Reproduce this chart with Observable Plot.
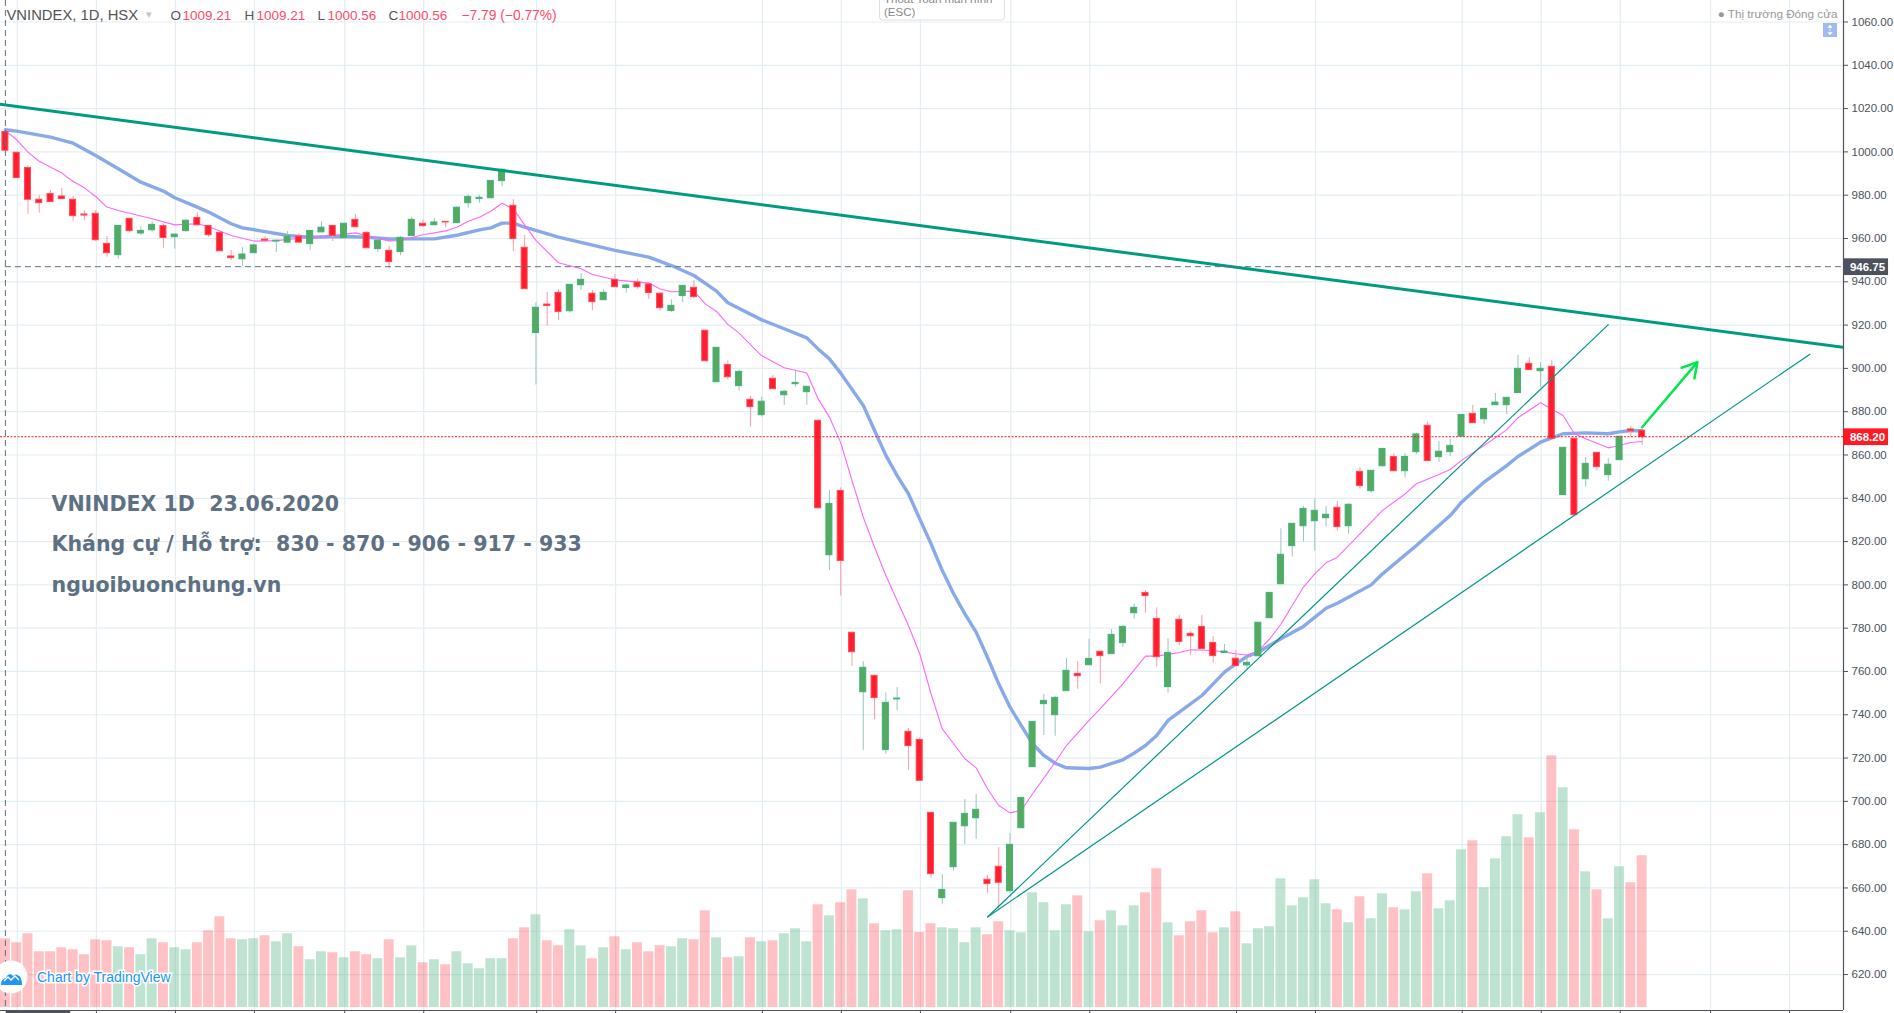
<!DOCTYPE html>
<html>
<head>
<meta charset="utf-8">
<script src="https://cdn.jsdelivr.net/npm/d3@7"></script>
<script src="https://cdn.jsdelivr.net/npm/@observablehq/plot@0.6"></script>
<style>
html,body{margin:0;padding:0;background:#fff;overflow:hidden}
#chart svg{display:block;background:#fff}
#chart svg text{white-space:pre}
</style>
</head>
<body>
<div id="chart"></div>
<script>
const opens=[1009.21,999.6,992.6,977.9,980.6,979.4,977.9,971.1,971.4,957.5,952.3,969.1,962.3,963.8,965.7,960.6,963.4,969.5,965.8,962.6,951.7,950.4,953.2,959.5,958.6,958.1,960.9,957.4,962.8,965.8,960.2,968.6,962.6,955.1,954.3,953.7,961.1,966.8,966.1,967.7,967.1,976.3,978.2,978.6,986.5,975.1,955.7,916.3,929.5,934.9,926.4,938.4,934.5,931.5,940.9,937.1,939.7,938.8,934.5,926.5,933.4,937.2,917.4,893.6,901.6,891.8,885.5,878.4,895.2,887.6,892.7,889,875.8,813.7,843.4,777.9,750.4,758,723.7,747.1,732.1,728.4,694.7,655.3,669.6,688.5,692.2,663.8,669.8,658.5,687.6,715.8,744.9,739.8,750.9,758.9,762.9,769.1,768,773.1,786.9,796.3,784.3,752.8,783.9,777.4,780.6,773.2,768.5,765.9,762.8,767,784.6,800.3,817.9,827.1,829.4,830.8,835.6,827.1,852.2,843.3,854.8,859.1,852.5,861.3,873.5,859,861.3,868.5,879,876.5,883,883,888.6,902.1,898.7,900.7,841.5,867.5,848.8,861,850.7,857.6,871.8,871.2];
const highs=[1009.21,999.6,993.4,979.9,982.2,983.1,979.4,972.9,972.9,960.9,965.8,969.1,965.5,967.8,966.8,961.8,968.6,972,965.8,962.9,954.5,955.8,957.5,960.9,959,963.2,962.1,963.5,967.8,965.8,966.8,971.1,963.2,959,956.4,960.9,969.7,968.6,969.2,967.7,974.6,980.2,979.9,986.6,992.5,978,961.4,930.4,935.1,936.3,938.6,943.8,936,936.4,943.4,939,941.1,938.8,934.9,931.7,938.1,940.6,917.4,909.5,903.5,899.3,887,886.6,896.7,889.8,898.6,891.5,875.8,843.6,844.8,777.9,764.5,758.3,750.1,752.6,733.7,729.3,694.7,666.2,690.1,700.9,703.2,665.8,678.7,685.2,701.6,736.7,749.4,748.4,766,764.6,774.8,769.1,779.4,781.2,790.95,797.4,789.4,775.1,785.9,778.5,785.9,776.2,772.5,769.7,766.6,782.5,796.3,825.9,828.2,836.2,839.8,836.2,838.5,837.5,854.2,852.7,862.8,860.5,860.5,869.9,875.3,866.2,867.2,878.5,882.9,881.3,888.4,886.4,906,904.9,902.6,903.7,863.3,867.5,858.8,861,858.4,868.4,873.2,871.2];
const lows=[1000.56,987.9,971.2,971.7,976.8,978,968,968.3,958.6,951.4,950.4,962.4,961.5,962.9,955.5,955.1,962.9,966.1,960.6,954.1,949.8,947.2,953.2,958.1,953.5,957.8,957.8,954.5,962.8,958.6,960.2,965.2,955.5,953.5,945.8,952.1,961.1,965.1,966.1,964.9,967.1,974,976.3,978.6,984,954,936.6,892.3,919.5,922.3,925.5,936,926.7,931.5,937.5,934.8,936.6,931.8,926.5,925.8,930.4,932.3,903.3,893.6,894.6,889.5,872.9,877.5,890.4,882.9,891.3,882.9,834.8,806.6,794.8,762.3,723.5,737.8,721.7,742,714.3,709.5,664.5,652.5,667.8,680.1,682.5,657.6,649.3,657.6,687.6,715.8,730.4,730.1,750.9,751.8,762.9,754.3,768,771.2,784.2,786.9,762,750,772,767.6,770.3,763.9,768.5,762,760.5,767,784.6,800.3,812.8,819.7,815.6,826.7,824.8,823.4,844.2,842.4,854.4,852.5,849.3,860.2,857.2,856.5,859.3,868.5,874.7,874.1,883,878.7,888.6,899.2,891.3,867.5,841.5,832.2,845.1,852.5,847.9,857.6,868.1,864.4];
const closes=[1000.56,987.9,977.9,976.3,976.8,978.2,970.3,970.6,959.2,953.2,965.8,963.4,963.5,966.3,960.2,961.8,968.2,966.1,961.5,954.1,950.9,952.6,956.8,959,959,960.9,958.1,963.5,965,961.2,966.8,965.2,955.5,959,949.1,960.3,968.6,965.7,967.4,967.4,974.2,979.2,978.8,986.6,991.7,959.8,936.6,928,928.8,926,938.6,940.9,930.6,934.9,937.5,938.3,937.5,934.8,927.8,928.9,938.1,932.9,903.3,909.5,895.9,898.4,882.1,884.6,890.4,889.2,893.3,891.5,835.4,837.4,811,768.9,761.7,747.7,745.5,747.5,725.5,709.5,666.4,659.1,690.1,694.2,696.1,661.8,662.4,679.9,701.6,736.7,746.4,747.8,760.3,757.8,765.8,767.1,776.9,780.6,789.4,794.8,766.6,768.6,773.6,776.3,770.3,767.1,769.2,762.5,764,782.5,796.3,813.9,828.2,835.1,834.2,832.4,826.7,837,845.6,852.7,862.8,852.5,859.1,869.5,857.2,861.5,864.2,878.5,874.7,881.3,884.2,886.4,899.8,899.2,899.8,867.5,863.3,832.2,855.9,854.4,855.5,868.4,870.9,868.2];
const volumes=[68.7,64.7,73.7,55.7,55.7,59.7,57.7,52.7,67.7,66.7,60.7,59.7,52.7,68.7,64.7,59.7,57.7,64.7,76.7,90.7,68.7,67.7,68.7,71.7,65.7,73.7,60.7,47.7,55.7,54.7,49.7,55.7,52.7,48.7,67.7,49.7,61.7,44.7,47.7,42.7,55.7,43.7,38.7,48.7,48.7,68.7,79.7,92.7,66.7,61.7,77.7,61.7,48.7,59.7,70.7,57.7,64.7,55.7,61.7,60.7,68.7,67.7,96.7,69.7,49.7,50.7,69.7,65.7,66.7,73.7,78.7,65.7,102.7,91.7,104.7,117.7,108.7,83.7,76.7,77.7,116.7,75,83.7,79.7,78.7,64.7,79.7,72.7,85.7,76.7,74.7,114.7,104.7,76.7,102.7,111.7,75.7,86.7,96.7,81.7,101.7,114.7,138.7,84.7,71.7,85.7,96.7,74.7,79.7,95.7,63.7,78.7,80.7,128.7,101.7,109.7,127.7,103.7,97.7,84.7,110.7,88.7,113.7,99.7,97.7,115.7,133.7,98.7,106.7,157.7,166.7,119.7,148.7,170.7,192.7,169.7,194.7,251.7,219.7,177.7,135.7,117.7,88.7,140.7,124.7,151.7];

const slowDays=[0,1,4,6,8,10,12,14,15,17,18,20,21,23,25,27,30,32,34,38,40,42,43,44,45,46,49,54,57,59,61,63,64,67,69,71,72,73,74,76,77,78,79,80,81,82,83,84,85,86,87,88,89,90,91,92,93,94,96,97,99,100,101,102,103,104,106,107,108,109,110,111,113,115,117,118,121,122,125,128,129,131,133,134,136,137,138,140,142,143,144,145];
const slowValues=[1010.2,1009.6,1006.8,1004,998.3,992.2,986,981.9,978.8,974.5,972.2,966.8,964.9,963.2,961.4,960.6,960.9,960.6,959.8,959.8,961.5,964,964.9,967.1,967.1,965.2,960.6,954.5,951.4,947.5,942.9,935.7,930.3,922.4,918.3,914.1,909,904.4,897.8,882.9,871.3,859.8,850.5,842.1,830.5,819,806.6,795.9,786.6,778.2,766.6,754.3,743.5,735,726.6,721.2,717.6,715.5,715.2,715.8,719.2,722.3,725.8,730.4,737.4,741.2,748.9,754.3,759.7,763.5,766.9,768.9,775.1,780.8,789.2,791.5,800,805.1,818.2,832,838.2,847.5,855.1,859.3,865.9,867.9,869.8,870.2,869.8,870.7,871.3,871.2];
const fastDays=[0,1,2,3,5,6,7,8,9,10,13,15,17,18,20,22,24,27,29,31,32,34,35,37,39,40,41,42,43,44,45,46,47,49,51,52,54,57,58,59,61,62,63,64,65,67,69,71,72,73,74,75,76,77,78,79,80,81,82,83,84,85,86,87,88,89,90,91,93,94,96,97,99,101,102,103,104,105,107,109,110,111,112,113,114,115,116,117,118,120,122,124,125,127,128,129,131,133,134,136,138,139,140,142,143,144,145];
const fastValues=[1009.9,1005.6,999.9,995.7,990.2,986.3,983.4,979.4,974.5,972.9,969.1,966.3,966.8,965.5,961.4,958.8,959,960.6,961.4,962.6,961.4,958.9,959.1,961.7,963.5,965.2,968,969.8,972.6,976.3,973.7,966.3,959.1,948.8,946,943.4,940.9,939.4,936.7,935.4,935.7,929.8,926.3,920.3,916.3,905.8,900.3,897.9,885.9,877.5,865.7,848.2,831.3,817.4,804.3,792.8,781.2,768.2,749.7,733.5,726.6,719.7,715.5,705.8,698.1,694.7,695.8,703.5,718.1,725.8,737.4,742.8,754.3,767.1,767.1,767.9,768.8,770,769.7,768.2,767.6,769.5,775,781.8,790.5,799,805.1,810.2,812.8,823.6,834.4,842,846.7,851,853.3,857.5,864.4,871.6,877.2,884.1,878.2,869.8,867.5,863.3,864.4,865.8,866.2];

const priceTicks=[620,640,660,680,700,720,740,760,780,800,820,840,860,880,900,920,940,960,980,1000,1020,1040,1060];
const gridDays=[1,8,15,22,30,37,47,54,67,74,81,89,96,109,116,129,136,143,151,158];
const trendDays=[[-1,1022.4,163,909.6],[86.98,646.5,142.03,920.3],[86.98,646.5,159.9,906.7]];
const trendWidths=[3,1.2,1.2];
const arrowLeg=[{d1:145,p1:872.8,d2:149.9,p2:902.9}];
const priceTags=[{price:946.75,label:"946.75",fill:"#4c525e"},{price:868.2,label:"868.20",fill:"#ff1923"}];
const noteLines=["VNINDEX 1D  23.06.2020","Kháng cự / Hỗ trợ:  830 - 870 - 906 - 917 - 933","nguoibuonchung.vn"];
const noteOffsets=[504,544,585];
const headerBits=[["VNINDEX, 1D, HSX",6,"#555",14.8],["O",170,"#555",13.5],["1009.21",182,"#ff4a68",13.5],["H",244,"#555",13.5],["1009.21",256,"#ff4a68",13.5],["L",317,"#555",13.5],["1000.56",327,"#ff4a68",13.5],["C",388,"#555",13.5],["1000.56",398,"#ff4a68",13.5],["−7.79 (−0.77%)",461,"#ff4a68",13.8]];

const W=1894,H=1013,ML=0,MR=51,MT=0,MB=3;
const xDomain=[-0.434,162.84],yDomain=[603.4,1069.93];
const font="'Liberation Sans',Arial,sans-serif";
const volumeToPrice=v=>604.8+v/2.165;

const rows=opens.map((o,i)=>({i,o,h:highs[i],l:lows[i],c:closes[i],v:volumes[i],up:closes[i]>=o}));
const slow=slowDays.map((d,i)=>({d,p:slowValues[i]}));
const fast=fastDays.map((d,i)=>({d,p:fastValues[i]}));
const trends=trendDays.map((t,k)=>({x1:t[0],y1:t[1],x2:t[2],y2:t[3],w:trendWidths[k]}));

const chrome=()=>{
  const g=d3.create("svg:g").attr("text-anchor","start").style("text-anchor","start");
  g.append("rect").attr("x",1823).attr("y",23).attr("width",14).attr("height",14).attr("fill","#a0bcec");
  g.append("path").attr("d","M1830 25l-2 2.5h4zM1830 28.5v3M1830 35l-2-2.5h4z").attr("fill","#fff").attr("stroke","#fff").attr("stroke-width",.6);
  g.append("rect").attr("x",879.5).attr("y",-6).attr("width",125).attr("height",26).attr("rx",3).attr("fill","#fff").attr("stroke","#dcdfe3");
  g.append("text").attr("x",884).attr("y",3).attr("font-family",font).attr("font-size",11.5).attr("fill","#888").text("Thoát Toàn màn hình");
  g.append("text").attr("x",884).attr("y",16).attr("font-family",font).attr("font-size",11.5).attr("fill","#888").text("(ESC)");
  g.append("rect").attr("x",5.7).attr("y",1011).attr("width",64.5).attr("height",2).attr("fill","#4c525e");
  g.append("circle").attr("cx",11).attr("cy",977).attr("r",16.5).attr("fill","#fff");
  g.append("path").attr("d","M1 985c0-5 3-7 5-7 1-4 5-5 7-2 2-2 4-2 6 0 2 1 3 5 3 9z").attr("fill","#2196f3");
  g.append("path").attr("d","M4 981l4-4 3 3 4-4 4 4").attr("fill","none").attr("stroke","#fff").attr("stroke-width",1.3);
  g.append("text").attr("x",37).attr("y",981.5).attr("font-family",font).attr("font-size",14).attr("fill","#2196f3").attr("stroke","#fff").attr("stroke-width",3).attr("paint-order","stroke").text("Chart by TradingView");
  return g.node();
};

const chart=Plot.plot({
  width:W,height:H,marginLeft:ML,marginRight:MR,marginTop:MT,marginBottom:MB,
  style:{background:"#fff",fontFamily:font,overflow:"visible"},
  x:{type:"linear",domain:xDomain,axis:null},
  y:{type:"linear",domain:yDomain,axis:null},
  marks:[
    Plot.ruleY(priceTicks,{stroke:"#e4edf3",strokeWidth:1.2}),
    Plot.ruleX(gridDays,{stroke:"#e4edf3",strokeWidth:1.2,dx:.7}),
    Plot.rect(rows,{x1:d=>d.i-.44,x2:d=>d.i+.44,y1:()=>604.8,y2:d=>volumeToPrice(d.v),fill:d=>d.up?"#53b987":"#ff1f2c",fillOpacity:d=>d.up?.38:.28}),
    Plot.line(slow,{x:"d",y:"p",stroke:"#88a9ea",strokeWidth:3.4,curve:"linear"}),
    Plot.line(fast,{x:"d",y:"p",stroke:"#ff66ff",strokeWidth:1.1,curve:"linear"}),
    Plot.ruleX(rows,{x:"i",y1:"l",y2:"h",stroke:d=>d.up?"#97c6c0":"#ff9aa6",strokeWidth:1}),
    Plot.rect(rows,{x1:d=>d.i-.266,x2:d=>d.i+.266,y1:"o",y2:"c",fill:d=>d.up?"#55aa5e":"#ff1e2d",stroke:d=>d.up?"#3fb27f":"#ff4a5a",strokeWidth:1,clip:true}),
    Plot.link(trends,{x1:"x1",y1:"y1",x2:"x2",y2:"y2",stroke:(d,k)=>k===0?"#009b80":"#009688",strokeWidth:"w",clip:true}),
    Plot.arrow(arrowLeg,{x1:"d1",y1:"p1",x2:"d2",y2:"p2",bend:0,stroke:"#00e84e",strokeWidth:2.5,headLength:10}),
    Plot.ruleY([946.75],{x1:0,x2:xDomain[1],dy:-.5,stroke:"#5d7186",strokeWidth:1,strokeDasharray:"6,4"}),
    Plot.ruleY([868.2],{dy:-.5,stroke:"#ff1923",strokeWidth:1,strokeDasharray:"2,1.5"}),
    Plot.ruleX([0],{stroke:"#5d7186",strokeWidth:1,strokeDasharray:"6,4"}),
    Plot.ruleX([xDomain[1]],{stroke:"#50535e",strokeWidth:1.2}),
    Plot.ruleY([yDomain[0]],{stroke:"#50535e",strokeWidth:1.2}),
    Plot.axisY(priceTicks,{anchor:"right",tickSize:4,tickPadding:4,label:null,tickFormat:d=>d.toFixed(2),fontSize:11.5,stroke:"#50535e",fill:"#4c525e"}),
    Plot.axisX(gridDays,{anchor:"bottom",tickSize:3,label:null,tickFormat:()=>"",stroke:"#50535e",dx:.7}),
    Plot.rect(priceTags,{x1:()=>xDomain[1],x2:()=>xDomain[1]+3.99,y1:d=>d.price-3.86,y2:d=>d.price+3.86,fill:"fill"}),
    Plot.text(priceTags,{x:()=>xDomain[1],y:"price",text:"label",dx:24,textAnchor:"middle",fill:"#fff",fontSize:11.5,fontWeight:"bold"}),
    ...noteLines.map((t,k)=>Plot.text([t],{frameAnchor:"top-left",dx:51,dy:noteOffsets[k],lineAnchor:"middle",textAnchor:"start",fill:"#5d7183",fontSize:20.55,fontWeight:"bold",fontFamily:"'DejaVu Sans',sans-serif"})),
    ...headerBits.map(b=>Plot.text([b[0]],{frameAnchor:"top-left",dx:b[1],dy:15,lineAnchor:"middle",textAnchor:"start",fill:b[2],fontSize:b[3]})),
    Plot.text(["▾"],{frameAnchor:"top-left",dx:145,dy:14,lineAnchor:"middle",textAnchor:"start",fill:"#c4c4c4",fontSize:11}),
    Plot.text(["● Thị trường Đóng cửa"],{frameAnchor:"top-left",dx:1837,dy:14,lineAnchor:"middle",textAnchor:"end",fill:"#999",fontSize:11.7}),
    chrome
  ]
});
document.getElementById("chart").appendChild(chart);
</script>
</body>
</html>
